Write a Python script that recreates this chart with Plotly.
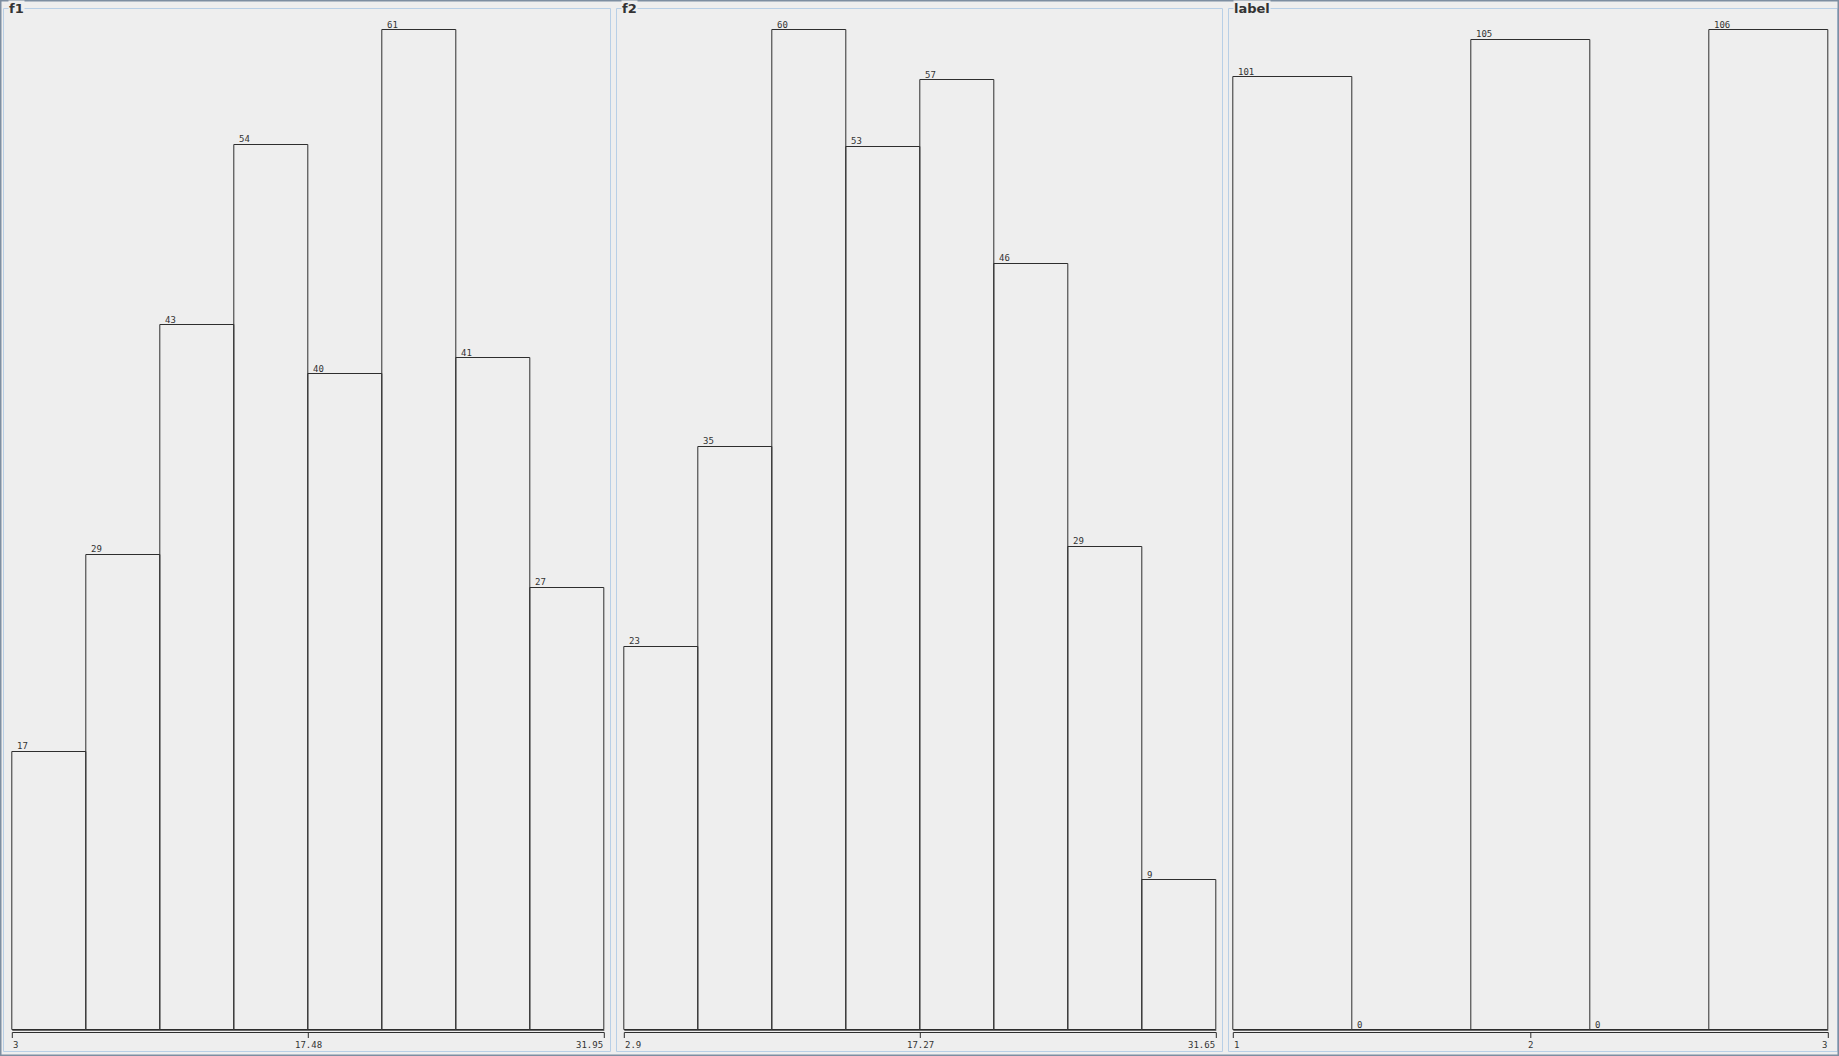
import plotly.graph_objects as go

# ---- data ----
f1_counts = [17, 29, 43, 54, 40, 61, 41, 27]
f1_min, f1_max = 3.0, 31.95
f1_ticks = ["3", "17.48", "31.95"]

f2_counts = [23, 35, 60, 53, 57, 46, 29, 9]
f2_min, f2_max = 2.9, 31.65
f2_ticks = ["2.9", "17.27", "31.65"]

label_counts = [101, 0, 105, 0, 106]
label_min, label_max = 1.0, 3.0
label_ticks = ["1", "2", "3"]

titles = ["f1", "f2", "label"]

# ---- layout (pixel geometry) ----
W, H = 1839, 1056
BG = "#eeeeee"
LINE = "#2e2e2e"
BORDER = "#b8cfe6"
FRAME = "#7d8ea1"
TEXT = "#333333"

panels = [
    dict(title=titles[0], counts=f1_counts, lo=f1_min, hi=f1_max, ticks=f1_ticks,
         L=12.3, R=604.3, box=(3, 610)),
    dict(title=titles[1], counts=f2_counts, lo=f2_min, hi=f2_max, ticks=f2_ticks,
         L=624.3, R=1216.3, box=(616, 1222)),
    dict(title=titles[2], counts=label_counts, lo=label_min, hi=label_max, ticks=label_ticks,
         L=1233.3, R=1828.3, box=(1228, 1837)),
]

BASE, TOP = 1030.2, 30.2
PAD_X = 6


def py(px):
    return (H - px) / H


def pxx(px):
    return px / W


fig = go.Figure()
shapes = []
annotations = []

for i, p in enumerate(panels):
    n = len(p["counts"])
    lo, hi = p["lo"], p["hi"]
    bw = (hi - lo) / n
    centers = [lo + bw * (k + 0.5) for k in range(n)]
    ymax = max(p["counts"])
    xa = "x" if i == 0 else f"x{i+1}"
    ya = "y" if i == 0 else f"y{i+1}"
    xkey = "xaxis" if i == 0 else f"xaxis{i+1}"
    ykey = "yaxis" if i == 0 else f"yaxis{i+1}"
    L, R = p["L"], p["R"]
    scale = (hi - lo) / (R - L)
    xr = [lo - PAD_X * scale, hi + PAD_X * scale]
    dom_x = [pxx(L - PAD_X), pxx(R + PAD_X)]
    ys = ymax / (BASE - TOP)
    yr = [-(1040 - BASE) * ys, (BASE - 20) * ys]
    dom_y = [py(1040), py(20)]

    fig.add_trace(go.Bar(
        x=centers, y=p["counts"], width=bw,
        marker=dict(color="rgba(0,0,0,0)", line=dict(color=LINE, width=1)),
        xaxis=xa, yaxis=ya, showlegend=False, hoverinfo="x+y",
    ))
    fig.update_layout(**{
        xkey: dict(domain=dom_x, range=xr, visible=False, showgrid=False, zeroline=False,
                   anchor=ya),
        ykey: dict(domain=dom_y, range=yr, visible=False, showgrid=False, zeroline=False,
                   anchor=xa),
    })

    # baseline under bars
    shapes.append(dict(type="line", xref=xa, yref=ya, x0=lo, x1=hi, y0=0, y1=0,
                       line=dict(color=LINE, width=1)))
    # axis line + ticks
    ay = 1032.5
    shapes.append(dict(type="line", xref=xa, yref="paper", x0=lo, x1=hi,
                       y0=py(ay), y1=py(ay), line=dict(color=LINE, width=1)))
    tick_pos = [lo, (lo + hi) / 2, hi]
    for tp in tick_pos:
        shapes.append(dict(type="line", xref=xa, yref="paper", x0=tp, x1=tp,
                           y0=py(ay), y1=py(1038), line=dict(color=LINE, width=1)))
    anchors = ["left", "center", "right"]
    shifts = [-1, 0, 1]
    for tp, tl, an, sh in zip(tick_pos, p["ticks"], anchors, shifts):
        annotations.append(dict(x=tp, y=py(1044.5), xref=xa, yref="paper", text=tl,
                                showarrow=False, xanchor=an, yanchor="middle", xshift=sh,
                                font=dict(family="DejaVu Sans Mono", size=9, color=TEXT)))

    # bar count labels
    for k, c in enumerate(p["counts"]):
        annotations.append(dict(x=lo + bw * k, y=c, xref=xa, yref=ya, text=str(c),
                                showarrow=False, xanchor="left", yanchor="bottom",
                                xshift=2.5, yshift=-1.5,
                                font=dict(family="DejaVu Sans Mono", size=9, color=TEXT)))

    # panel border
    bx0, bx1 = p["box"]
    shapes.append(dict(type="rect", xref="paper", yref="paper",
                       x0=pxx(bx0 + 0.5), x1=pxx(bx1 + 0.5), y0=py(1051.5), y1=py(8.5),
                       line=dict(color=BORDER, width=1), layer="below"))
    annotations.append(dict(x=pxx(bx0 + 5), y=py(8.5), xref="paper", yref="paper",
                            text="<b>" + p["title"] + "</b>", showarrow=False,
                            xanchor="left", yanchor="middle", bgcolor=BG, borderpad=0,
                            font=dict(family="DejaVu Sans", size=13, color=TEXT)))

# outer frame
shapes.append(dict(type="rect", xref="paper", yref="paper", x0=pxx(0.5), x1=pxx(W - 0.5),
                   y0=py(H - 0.5), y1=py(0.5), line=dict(color=FRAME, width=2)))

fig.update_layout(
    width=W, height=H, margin=dict(l=0, r=0, t=0, b=0),
    paper_bgcolor=BG, plot_bgcolor="rgba(0,0,0,0)",
    shapes=shapes, annotations=annotations, showlegend=False, bargap=0,
)

fig.write_html("out.html")
